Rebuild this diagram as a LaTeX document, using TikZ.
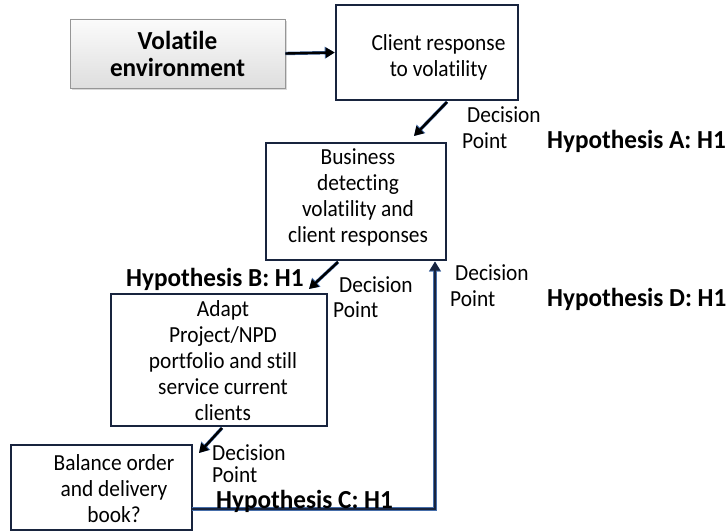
\documentclass[tikz,border=0pt]{standalone}
\usepackage{fontspec}
\setmainfont{Carlito}
\newfontfamily\regfont[FakeStretch=0.93,Ligatures=NoCommon]{Carlito}
\newfontfamily\boldfont[FakeStretch=0.97,Ligatures=NoCommon]{Carlito Bold}
\usetikzlibrary{arrows.meta,shadows}
\definecolor{navy}{RGB}{24,36,62}
\definecolor{edgeblue}{RGB}{70,110,170}
\definecolor{graybd}{RGB}{150,150,150}
\tikzset{
  boxnode/.style={draw=navy, line width=2.6pt, rectangle, inner sep=0pt},
  txt/.style={font=\regfont\fontsize{23}{26}\selectfont, align=center, inner sep=0pt},
  btxt/.style={font=\boldfont\fontsize{26}{27}\selectfont, align=center, inner sep=0pt},
  flowarrow/.style={draw=black, line width=2.4pt, -{Triangle[length=9pt,width=10pt]},
    preaction={draw=edgeblue, line width=3.4pt, -{Triangle[length=10pt,width=11.5pt]}}},
  returnline/.style={draw=navy, line width=2.2pt, -{Triangle[length=9pt,width=10pt]},
    preaction={draw=edgeblue, line width=3.2pt, -{Triangle[length=10pt,width=11.5pt]}}}
}
\begin{document}
\begin{tikzpicture}[x=1pt,y=-1pt]
\useasboundingbox (0,0) rectangle (728,532);
% Volatile environment
\node[draw=graybd, line width=0.8pt, rectangle, minimum width=215pt, minimum height=69pt,
  top color=white!97!gray, bottom color=black!13, drop shadow={shadow xshift=2pt, shadow yshift=-2pt, opacity=0.3},
  btxt] (vol) at (177.5,53.5) {Volatile\\environment};
% Client response box
\node[boxnode, minimum width=182pt, minimum height=95pt] (client) at (427,52.5) {};
\node[txt] (clienttxt) at (438.5,57) {Client response\\to volatility};
% Business box
\node[boxnode, minimum width=180pt, minimum height=117pt] (business) at (356,201.5) {};
\node[txt] (businesstxt) at (358,197) {Business\\detecting\\volatility and\\client responses};
% Adapt box
\node[boxnode, minimum width=216pt, minimum height=132pt] (adapt) at (219,360) {};
\node[txt] (adapttxt) at (223,361) {Adapt\\Project/NPD\\portfolio and still\\service current\\clients};
% Balance box
\node[boxnode, minimum width=181pt, minimum height=85pt] (balance) at (101.5,487.5) {};
\node[txt] (balancetxt) at (114,489) {Balance order\\and delivery\\book?};
% coordinates for arrow ends
\coordinate (a1s) at (447,102);
\coordinate (a1e) at (414,136);
\coordinate (a2s) at (338,262);
\coordinate (a2e) at (309,289);
\coordinate (a3s) at (222,428);
\coordinate (a3e) at (199,453);
\coordinate (rs) at (192,509);
\coordinate (rc) at (435,509);
\coordinate (re) at (435,261.5);
% arrows
\draw[flowarrow] (vol.east) -- (client.west);
\draw[flowarrow] (a1s) -- (a1e);
\draw[flowarrow] (a2s) -- (a2e);
\draw[flowarrow] (a3s) -- (a3e);
\draw[returnline] (rs) -- (rc) -- (re);
% labels
\node[txt, anchor=west] (dp1a) at (467,115) {Decision};
\node[txt, anchor=west] (dp1b) at (462,141) {Point};
\node[btxt, anchor=west] (hypa) at (547,141) {Hypothesis A: H1};
\node[btxt, anchor=west] (hypb) at (126,279) {Hypothesis B: H1};
\node[txt, anchor=west] (dp2a) at (339,285) {Decision};
\node[txt, anchor=west] (dp2b) at (333,310) {Point};
\node[txt, anchor=north west, align=left, font=\regfont\fontsize{23}{22}\selectfont, text depth=0pt]
  (dp3) at (212,444) {Decision\\Point};
\node[btxt, anchor=west] (hypc) at (216,501) {Hypothesis C: H1};
\node[txt, anchor=west] (dp4a) at (455,273) {Decision};
\node[txt, anchor=west] (dp4b) at (450,299) {Point};
\node[btxt, anchor=west] (hypd) at (547,299) {Hypothesis D: H1};
\end{tikzpicture}
\end{document}
